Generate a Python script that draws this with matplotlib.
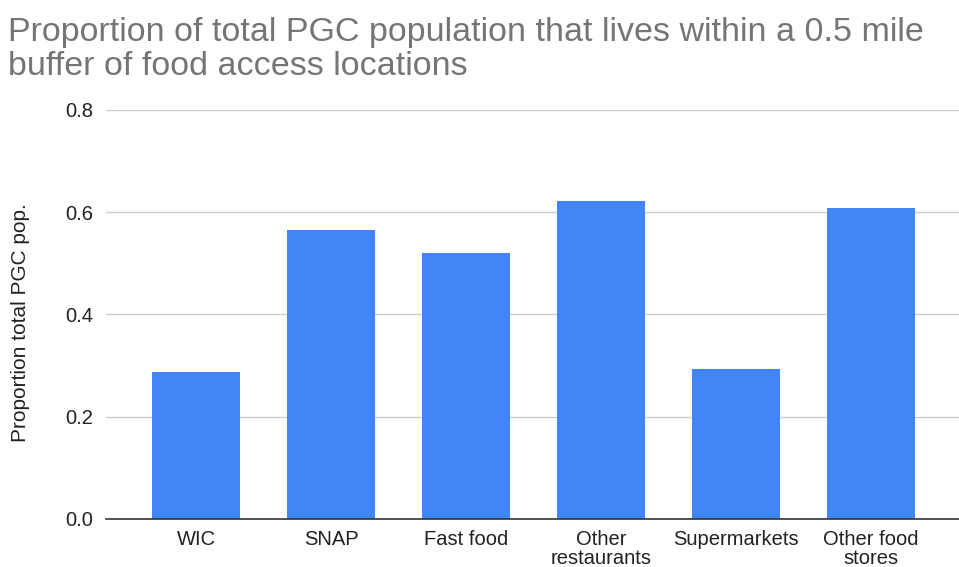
import matplotlib
matplotlib.use("Agg")
import matplotlib.pyplot as plt

categories = ["WIC", "SNAP", "Fast food", "Other\nrestaurants", "Supermarkets", "Other food\nstores"]
proportions = [0.288, 0.566, 0.521, 0.622, 0.294, 0.609]
y_ticks = [0.0, 0.2, 0.4, 0.6, 0.8]

plt.rcParams["font.family"] = ["Liberation Sans", "DejaVu Sans"]

fig = plt.figure(figsize=(9.59, 5.67), dpi=100)
ax = fig.add_axes([0.1102, 0.0847, 0.8925, 0.7213])

x = list(range(len(categories)))
ax.bar(x, proportions, width=0.652, color="#4285F4", zorder=3)

ax.set_xlim(-0.669, len(categories) - 1 + 0.669)
ax.set_ylim(0, 0.8)
ax.set_yticks(y_ticks)
ax.set_yticklabels([f"{v:.1f}" for v in y_ticks], fontsize=14.5, color="#222222")
ax.set_xticks(x)
ax.set_xticklabels(categories, fontsize=14.5, color="#222222", linespacing=1.0)

ax.grid(axis="y", color="#cccccc", linewidth=1, zorder=0)
for side in ("top", "right", "left"):
    ax.spines[side].set_visible(False)
ax.spines["bottom"].set_color("#333333")
ax.spines["bottom"].set_linewidth(1.2)
ax.spines["bottom"].set_zorder(4)
ax.tick_params(axis="both", length=0)
ax.tick_params(axis="y", pad=9)
ax.tick_params(axis="x", pad=8)

ax.set_ylabel("Proportion total PGC pop.", fontsize=15, color="#222222")
ax.yaxis.set_label_coords(-0.089, 0.48)

fig.text(0.008, 0.970,
         "Proportion of total PGC population that lives within a 0.5 mile\nbuffer of food access locations",
         ha="left", va="top", fontsize=24.5, color="#757575", linespacing=1.12)

fig.savefig("out.png", dpi=100)
